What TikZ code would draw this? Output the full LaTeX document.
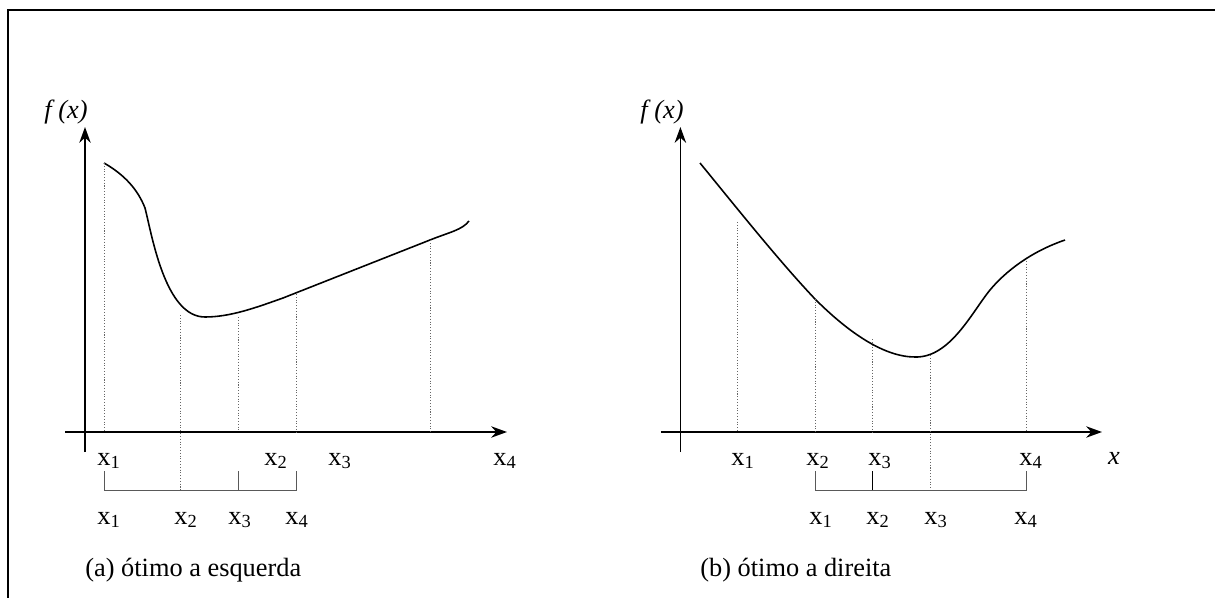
\documentclass[tikz,border=0pt]{standalone}
\usepackage{fontspec}
\setmainfont{Liberation Serif}
\usetikzlibrary{arrows.meta}
\begin{document}
\begin{tikzpicture}[x=0.02cm, y=-0.02cm,
    axis/.style={line width=1pt, -{Stealth[length=9pt, width=6.5pt]}},
    curve/.style={line width=0.9pt},
    guide/.style={line width=0.4pt, gray!80!black, dash pattern=on 0.6pt off 1pt},
    bracket/.style={line width=0.5pt, gray!70!black},
    lbl/.style={font=\fontsize{15}{18}\selectfont, inner sep=0pt}]

  \useasboundingbox (0,0) rectangle (1215,598);

  % --- frame (right and bottom edges lie outside) ---
  \draw[line width=1.1pt] (8,600) -- (8,10) -- (1220,10);

  % Layout (pixel grid, y downwards):
  %   x axes at y = 432, brackets at y = 490
  %   upper labels at y = 461, lower labels at y = 520
  \def\ax{432}
  \def\br{490}
  \def\tk{471}

  % === (a) optimum on the left ===
  \draw[axis] (85,452) -- (85,127);
  \draw[axis] (65,\ax) -- (507,\ax);
  \node[lbl, font=\fontsize{15}{18}\selectfont\itshape] (fa) at (66,112) {f (x)};

  \draw[curve]
    (104,163) .. controls (125,175) and (138,190) .. (145,208)
    .. controls (152,235) and (165,317) .. (205,317)
    .. controls (230,317) and (255,308) .. (283,298)
    -- (430,240)
    .. controls (450,232) and (462,230) .. (469,221);

  % guides
  \draw[guide] (104,163) -- (104,\ax);
  \draw[guide] (180.6,315) -- (180.6,\br);
  \draw[guide] (238.8,317) -- (238.8,\ax);
  \draw[guide] (296,294) -- (296,\ax);
  \draw[guide] (430.5,240) -- (430.5,\ax);

  % new interval
  \draw[bracket] (104,\tk) -- (104,\br) -- (296,\br) -- (296,\tk);
  \draw[bracket] (238.8,\tk) -- (238.8,\br);

  \node[lbl] (a1) at (109,461) {x\textsubscript{1}};
  \node[lbl] (a2) at (276,461) {x\textsubscript{2}};
  \node[lbl] (a3) at (340,461) {x\textsubscript{3}};
  \node[lbl] (a4) at (505,461) {x\textsubscript{4}};
  \node[lbl] (na1) at (109,520) {x\textsubscript{1}};
  \node[lbl] (na2) at (186,520) {x\textsubscript{2}};
  \node[lbl] (na3) at (240,520) {x\textsubscript{3}};
  \node[lbl] (na4) at (297,520) {x\textsubscript{4}};

  \node[lbl, anchor=west] (capa) at (85,570) {(a) ótimo a esquerda};

  % === (b) optimum on the right ===
  \draw[axis] (680.4,452) -- (680.4,127);
  \draw[axis] (660.8,\ax) -- (1102,\ax);
  \node[lbl, font=\fontsize{15}{18}\selectfont\itshape] (fb) at (662,112) {f (x)};

  \draw[curve]
    (700,163) .. controls (740,212) and (780,262) .. (815,299)
    .. controls (850,334) and (885,357) .. (915,357)
    .. controls (950,358) and (972,312) .. (990,290)
    .. controls (1005,272) and (1030,252) .. (1065,240);

  % guides
  \draw[guide] (737,222) -- (737,\ax);
  \draw[guide] (815,299) -- (815,\ax);
  \draw[guide] (872,339) -- (872,\ax);
  \draw[guide] (930,355) -- (930,\br);
  \draw[guide] (1026,261) -- (1026,\ax);

  % new interval
  \draw[bracket] (815,\tk) -- (815,\br) -- (1026,\br) -- (1026,\tk);
  \draw[bracket, black] (872,\tk) -- (872,\br);

  \node[lbl] (b1) at (743,461) {x\textsubscript{1}};
  \node[lbl] (b2) at (818,461) {x\textsubscript{2}};
  \node[lbl] (b3) at (880,461) {x\textsubscript{3}};
  \node[lbl] (b4) at (1031,461) {x\textsubscript{4}};
  \node[lbl, font=\fontsize{15}{18}\selectfont\itshape] (bx) at (1114,458) {x};
  \node[lbl] (nb1) at (821,520) {x\textsubscript{1}};
  \node[lbl] (nb2) at (878,520) {x\textsubscript{2}};
  \node[lbl] (nb3) at (936,520) {x\textsubscript{3}};
  \node[lbl] (nb4) at (1026,520) {x\textsubscript{4}};

  \node[lbl, anchor=west] (capb) at (700,570) {(b) ótimo a direita};

\end{tikzpicture}
\end{document}
